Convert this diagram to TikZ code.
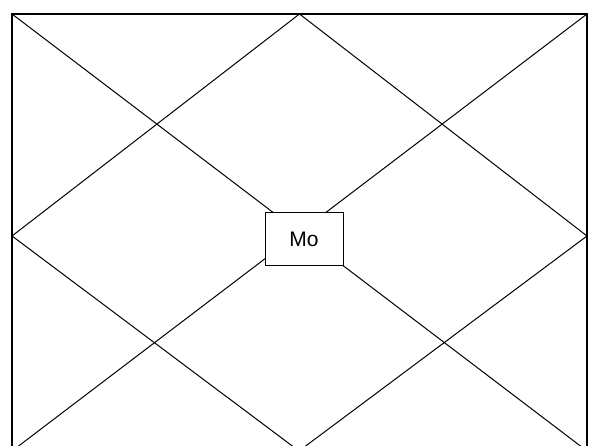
\documentclass[tikz,border=0pt]{standalone}
\usepackage{fontspec}
\setmainfont{Liberation Sans}
\begin{document}
\begin{tikzpicture}[x=1pt,y=1pt,
  frame/.style={draw=black,line width=2pt},
  chartline/.style={draw=black,line width=1pt},
  centerbox/.style={draw=black,line width=1pt,fill=white,minimum width=78pt,minimum height=53pt,inner sep=0pt,font=\fontsize{21}{24}\selectfont}]
\useasboundingbox (0,0) rectangle (592,445);
\clip (0,0) rectangle (592,445);
\fill[white] (0,0) rectangle (592,445);
% corners (y = 445 - image y)
\coordinate (tl) at (12,431);
\coordinate (tr) at (587,431);
\coordinate (br) at (587,-6);
\coordinate (bl) at (12,-6);
\coordinate (tm) at (299.5,431);
\coordinate (rm) at (587,209);
\coordinate (bm) at (299,-6);
\coordinate (lm) at (12,209);
\draw[chartline] (tl) -- (br);
\draw[chartline] (tr) -- (bl);
\draw[chartline] (tm) -- (rm) -- (bm) -- (lm) -- cycle;
\draw[frame] (tl) rectangle (br);
\node[centerbox] (mo) at (304,205.5) {Mo};
\end{tikzpicture}
\end{document}
